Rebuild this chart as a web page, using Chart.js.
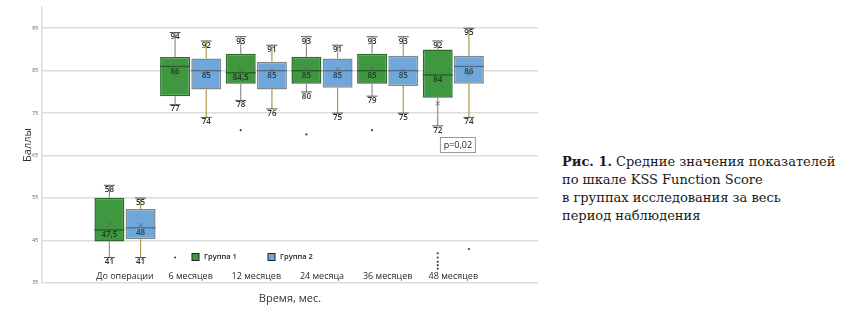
<!DOCTYPE html>
<html lang="ru">
<head>
<meta charset="utf-8">
<script src="https://cdn.jsdelivr.net/npm/chart.js@4.4.1/dist/chart.umd.min.js"></script>
<style>
    html, body { margin: 0; padding: 0; background: #fff; }
    #wrap { position: absolute; left: 0; top: 0; width: 545px; height: 313px; }
    #caption {
        position: absolute; left: 562px; top: 153px;
        font-family: "DejaVu Serif", serif; font-size: 13px; line-height: 18px; color: #1a1a1a;
        white-space: nowrap;
    }
</style>
</head>
<body>
<div id="wrap"><canvas id="kss-chart"></canvas></div>
<div id="caption"><b>Рис. 1.</b> Средние значения показателей<br>по шкале KSS Function Score<br>в группах исследования за весь<br>период наблюдения</div>
<script>

// Time points
var categories = ['До операции', '6 месяцев', '12 месяцев', '24 месяца', '36 месяцев', '48 месяцев'];

// Группа 1
var g1Min    = [41, 77, 78, 80, 79, 72];
var g1Q1     = [44.8, 79, 81.9, 81.9, 81.9, 78.6];
var g1Median = [47.5, 86, 84.5, 85, 85, 84];
var g1Q3     = [55, 88.2, 89, 88.3, 89, 90];
var g1Max    = [58, 94, 93, 93, 93, 92];
var g1Mean   = [49, 84, 85.2, 85.3, 85.6, 77.3];
var g1Outliers = [[], [41], [71], [70], [71], [42, 41, 40, 39.2, 38.4]];

// Группа 2
var g2Min    = [41, 74, 76, 75, 75, 74];
var g2Q1     = [45.3, 80.6, 80.6, 81, 81.4, 81.9];
var g2Median = [48, 85, 85, 85, 85, 86];
var g2Q3     = [52.4, 87.9, 87.1, 87.9, 88.5, 88.5];
var g2Max    = [55, 92, 91, 91, 93, 95];
var g2Mean   = [48.6, 84.6, 85, 85.3, 85, 84.2];
var g2Outliers = [[], [], [], [], [], [43]];

var yTicks = [35, 45, 55, 65, 75, 85, 95];
var pText = 'p=0,02';

function boxData(q1, q3) {
    return q1.map(function(v, i) { return { x: i, y: [v, q3[i]] }; });
}

function fmt(v) {
    return String(v).replace('.', ',');
}

var boxExtras = {
    id: 'boxExtras',
    afterDatasetsDraw: function(chart) {
        var ctx = chart.ctx;
        var ys = chart.scales.y, xs = chart.scales.x;
        var area = chart.chartArea;

        ctx.save();
        chart.data.datasets.forEach(function(ds, d) {
            var s = ds.box;
            var meta = chart.getDatasetMeta(d);
            meta.data.forEach(function(bar, i) {
                var cx = bar.x, hw = bar.width / 2;
                var yMin = ys.getPixelForValue(s.min[i]);
                var yMax = ys.getPixelForValue(s.max[i]);
                var yQ1 = ys.getPixelForValue(ds.data[i].y[0]);
                var yQ3 = ys.getPixelForValue(ds.data[i].y[1]);
                var yMed = ys.getPixelForValue(s.median[i]);
                var yMean = ys.getPixelForValue(s.mean[i]);

                // whiskers
                ctx.strokeStyle = s.whisker;
                ctx.lineWidth = 1.2;
                ctx.beginPath();
                ctx.moveTo(cx, yQ3); ctx.lineTo(cx, yMax);
                ctx.moveTo(cx, yQ1); ctx.lineTo(cx, yMin);
                ctx.stroke();

                // caps
                ctx.strokeStyle = '#555';
                ctx.lineWidth = 1;
                ctx.beginPath();
                ctx.moveTo(cx - 5.5, yMax); ctx.lineTo(cx + 5.5, yMax);
                ctx.moveTo(cx - 5.5, yMin); ctx.lineTo(cx + 5.5, yMin);
                ctx.stroke();

                // median
                ctx.strokeStyle = s.medianColor;
                ctx.lineWidth = 1.3;
                ctx.beginPath();
                ctx.moveTo(cx - hw, yMed); ctx.lineTo(cx + hw, yMed);
                ctx.stroke();

                // mean
                ctx.strokeStyle = s.meanColor;
                ctx.lineWidth = 0.9;
                ctx.beginPath();
                ctx.moveTo(cx - 2, yMean - 2); ctx.lineTo(cx + 2, yMean + 2);
                ctx.moveTo(cx + 2, yMean - 2); ctx.lineTo(cx - 2, yMean + 2);
                ctx.stroke();

                // outliers
                ctx.fillStyle = '#444';
                s.outliers[i].forEach(function(v) {
                    ctx.beginPath();
                    ctx.arc(cx, ys.getPixelForValue(v), 1.1, 0, Math.PI * 2);
                    ctx.fill();
                });

                // value labels
                ctx.font = '600 8px "Open Sans"';
                ctx.textAlign = 'center';
                ctx.textBaseline = 'top';
                ctx.fillStyle = '#2b2b2b';
                ctx.fillText(fmt(s.max[i]), cx, yMax + 0.5);
                ctx.fillText(fmt(s.min[i]), cx, yMin + 0.5);
                ctx.fillStyle = s.labelColor;
                ctx.fillText(fmt(s.median[i]), cx, yMed + 1);
            });
        });

        // legend inside the plot
        ctx.font = '600 7.5px "Open Sans"';
        ctx.textAlign = 'left';
        ctx.textBaseline = 'middle';
        var ly = area.bottom - 26;
        chart.data.datasets.forEach(function(ds, d) {
            var lx = area.left + 150 + d * 76;
            ctx.fillStyle = ds.backgroundColor;
            ctx.fillRect(lx, ly - 3.5, 7, 7);
            ctx.strokeStyle = '#222';
            ctx.lineWidth = 1;
            ctx.strokeRect(lx, ly - 3.5, 7, 7);
            ctx.fillStyle = '#222';
            ctx.fillText(ds.label, lx + 12, ly);
        });

        // p-value box
        var px = xs.getPixelForValue(5.07), py = ys.getPixelForValue(67.5);
        ctx.fillStyle = '#fff';
        ctx.fillRect(px - 17.5, py - 7.5, 35, 15);
        ctx.strokeStyle = '#999';
        ctx.strokeRect(px - 17.5, py - 7.5, 35, 15);
        ctx.fillStyle = '#222';
        ctx.font = '9px "Open Sans"';
        ctx.textAlign = 'center';
        ctx.fillText(pText, px, py + 0.5);
        ctx.restore();
    }
};

var ctx = document.getElementById('kss-chart');

var kssChart = new Chart(ctx, {
    type: 'bar',
    data: {
        datasets: [
            {
                label: 'Группа 1',
                data: boxData(g1Q1, g1Q3),
                backgroundColor: '#3f973f',
                borderColor: '#2d6a2d',
                borderWidth: 1.5,
                borderSkipped: false,
                categoryPercentage: 0.95,
                barPercentage: 0.96,
                box: {
                    min: g1Min, max: g1Max, median: g1Median, mean: g1Mean, outliers: g1Outliers,
                    whisker: '#8f8f8f', medianColor: '#2a5a2a', meanColor: '#4d6e4d', labelColor: '#233a23'
                }
            },
            {
                label: 'Группа 2',
                data: boxData(g2Q1, g2Q3),
                backgroundColor: '#70a7da',
                borderColor: '#7f8a8f',
                borderWidth: 1.5,
                borderSkipped: false,
                categoryPercentage: 0.95,
                barPercentage: 0.96,
                box: {
                    min: g2Min, max: g2Max, median: g2Median, mean: g2Mean, outliers: g2Outliers,
                    whisker: '#aa9a4c', medianColor: '#4f6a86', meanColor: '#5a6a7a', labelColor: '#2e3b48'
                }
            }
        ]
    },
    options: {
        responsive: true,
        maintainAspectRatio: false,
        animation: false,
        layout: { padding: { top: 7, right: 7, bottom: 0, left: 0 } },
        plugins: {
            legend: { display: false },
            tooltip: { enabled: false }
        },
        scales: {
            x: {
                type: 'linear',
                min: -0.6345,
                max: 5.66,
                afterBuildTicks: function(scale) {
                    scale.ticks = categories.map(function(c, i) { return { value: i }; });
                },
                afterFit: function(scale) { scale.height = 30; },
                grid: { display: false, drawTicks: false },
                border: { display: false },
                ticks: {
                    mirror: true,
                    padding: 1,
                    autoSkip: false,
                    maxRotation: 0,
                    color: '#2b2b2b',
                    font: { family: 'Open Sans', size: 9 },
                    callback: function(v) { return categories[v]; }
                },
                title: {
                    display: true,
                    text: 'Время, мес.',
                    color: '#333',
                    font: { family: 'Open Sans', size: 11 },
                    padding: { top: 0, bottom: 8 }
                }
            },
            y: {
                min: 35,
                max: 100,
                afterBuildTicks: function(scale) {
                    scale.ticks = yTicks.map(function(v) { return { value: v }; });
                },
                afterFit: function(scale) { scale.width = 42; },
                grid: { color: '#dcdcdc', lineWidth: 1.5, drawTicks: false },
                border: { color: '#dcdcdc', width: 1.5 },
                ticks: {
                    padding: 4,
                    color: '#555',
                    font: { family: 'Open Sans', size: 5 }
                },
                title: {
                    display: true,
                    text: 'Баллы',
                    color: '#333',
                    font: { family: 'Open Sans', size: 11 },
                    padding: { top: 21, bottom: 0 }
                }
            }
        }
    },
    plugins: [boxExtras]
});

</script>
</body>
</html>
